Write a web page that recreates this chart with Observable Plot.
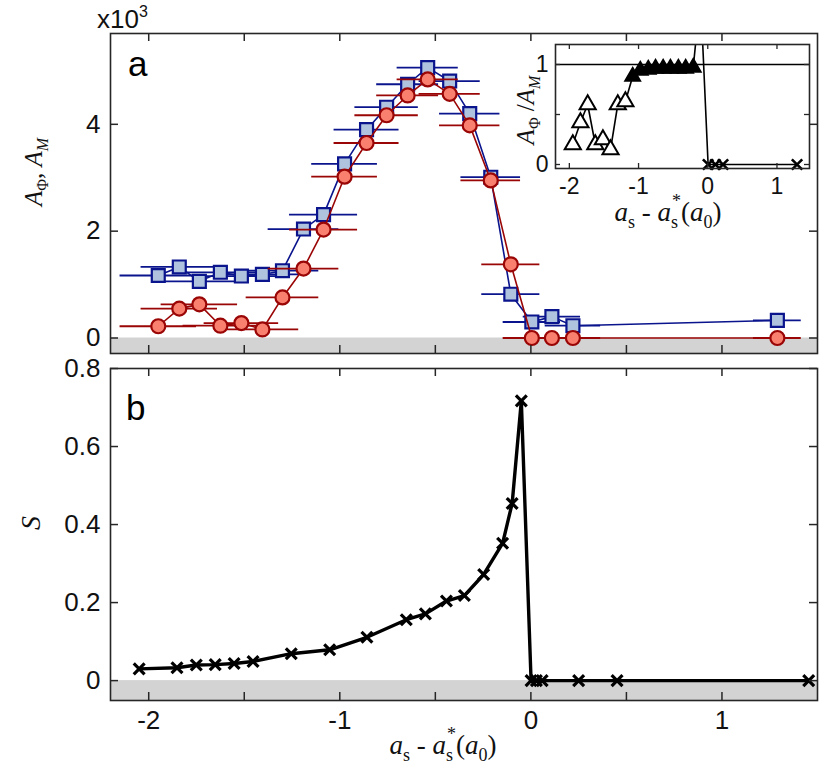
<!DOCTYPE html>
<html><head><meta charset="utf-8">
<script src="https://cdn.jsdelivr.net/npm/d3@7"></script>
<script src="https://cdn.jsdelivr.net/npm/@observablehq/plot@0.6"></script>
<style>
body{margin:0;background:#fff;}
#wrap{position:relative;width:830px;height:774px;overflow:hidden;background:#fff;}
</style></head><body><div id="wrap"></div>
<script>
// ---------- data ----------
// panel a: x positions, A_M (blue squares), A_Phi (red circles), both ×10^3, horizontal error half-widths
const xA    = [-1.95,-1.84,-1.735,-1.625,-1.515,-1.405,-1.30,-1.19,-1.085,-0.975,-0.86,-0.755,-0.645,-0.54,-0.425,-0.32,-0.21,-0.105,0.005,0.11,0.22,1.29];
const aM    = [1.17,1.33,1.06,1.23,1.16,1.19,1.26,2.04,2.31,3.26,3.90,4.32,4.75,5.06,4.81,4.20,3.01,0.82,0.30,0.40,0.23,0.33];
const aPhi  = [0.22,0.55,0.63,0.23,0.28,0.16,0.76,1.30,2.03,3.02,3.65,4.17,4.54,4.84,4.57,3.98,2.95,1.38,0,0,0,0];
const xErr  = [0.20,0.20,0.20,0.195,0.195,0.19,0.19,0.185,0.178,0.172,0.17,0.166,0.162,0.16,0.16,0.158,0.156,0.152,0.15,0.15,0.145,0.125];
// inset: ratio A_Phi/A_M and marker kind
const ratio = [0.20,0.42,0.60,0.20,0.25,0.15,0.60,0.63,0.88,0.94,0.95,0.96,0.96,0.96,0.96,0.96,0.97,1.70,0,0,0,0];
const kind  = ["open","open","open","open","open","open","open","open","filled","filled","filled","filled","filled","filled","filled","filled","filled","none","cross","cross","cross","cross"];
// panel b: S
const xB = [-2.05,-1.852,-1.751,-1.652,-1.553,-1.454,-1.254,-1.053,-0.858,-0.652,-0.552,-0.442,-0.348,-0.247,-0.148,-0.098,-0.05,0.001,0.029,0.059,0.25,0.451,1.454];
const sB = [0.030,0.033,0.040,0.041,0.044,0.049,0.069,0.079,0.111,0.156,0.171,0.204,0.218,0.272,0.352,0.454,0.717,0,0,0,0,0,0];
// ticks
const xTickLabels = [-2,-1,0,1];
const xTickMarks  = [-2,-1.5,-1,-0.5,0,0.5,1];
const aYTicks = [0,2,4];
const bYTicks = [0,0.2,0.4,0.6,0.8];
const iXTicks = [-2,-1,0,1];
const iYTicks = [0,0.5,1];

// ---------- tables ----------
const tableA = xA.map((x,i)=>({x, m:aM[i], p:aPhi[i], e:xErr[i]}));
const tableI = xA.map((x,i)=>({x, r:ratio[i], k:kind[i]}));
const tableB = xB.map((x,i)=>({x, s:sB[i]}));

const wrap = document.getElementById("wrap");
const ink = "#262626";
const blueS = "#0a148c", blueF = "#afc3de", redS = "#9a0505", redF = "#f9806f";
const W = 830, mL = 110, mR = 13, innerW = W - mL - mR;
const xDomain = [-2.2, 1.5];
const sans = "'Liberation Sans', Arial, sans-serif";

function place(el, left, top){ el.style.position="absolute"; el.style.left=left+"px"; el.style.top=top+"px"; wrap.appendChild(el); }

function frameTicks(xt, yt, innerH, iw, len, sw){
  return [
    Plot.tickX(xt, {x:d=>d, insetTop: innerH-len, stroke:ink, strokeWidth:sw}),
    Plot.tickX(xt, {x:d=>d, insetBottom: innerH-len, stroke:ink, strokeWidth:sw}),
    Plot.tickY(yt, {y:d=>d, insetRight: iw-len, stroke:ink, strokeWidth:sw}),
    Plot.tickY(yt, {y:d=>d, insetLeft: iw-len, stroke:ink, strokeWidth:sw}),
    Plot.frame({stroke:ink, strokeWidth:1.6})
  ];
}

// ---------- panel a ----------
const hA = 360, mTA = 33, mBA = 7, innerHA = hA - mTA - mBA;
const aYDomain = [-0.29, 5.70];
const chartA = Plot.plot({
  width:W, height:hA, marginTop:mTA, marginBottom:mBA, marginLeft:mL, marginRight:mR,
  style:{fontFamily:sans, fontSize:"26px", color:"#111", background:"transparent", overflow:"visible"},
  x:{domain:xDomain, axis:null},
  y:{domain:aYDomain, ticks:aYTicks, tickSize:0, tickPadding:10, label:null, tickFormat:d=>String(d)},
  marks:[
    Plot.rect([0], {x1:()=>xDomain[0], x2:()=>xDomain[1], y1:()=>aYDomain[0], y2:()=>0, fill:"#d3d3d3"}),
    Plot.ruleY(tableA, {y:"m", x1:d=>d.x-d.e, x2:d=>d.x+d.e, stroke:blueS, strokeWidth:1.8}),
    Plot.line(tableA, {x:"x", y:"m", stroke:blueS, strokeWidth:1.6}),
    Plot.dot(tableA, {x:"x", y:"m", symbol:"square", r:7.3, fill:blueF, stroke:blueS, strokeWidth:2.2}),
    Plot.ruleY(tableA, {y:"p", x1:d=>d.x-d.e, x2:d=>d.x+d.e, stroke:redS, strokeWidth:1.8}),
    Plot.line(tableA, {x:"x", y:"p", stroke:redS, strokeWidth:1.6}),
    Plot.dot(tableA, {x:"x", y:"p", symbol:"circle", r:7, fill:redF, stroke:redS, strokeWidth:2.2}),
    ...frameTicks(xTickMarks, aYTicks, innerHA, innerW, 8, 1.5)
  ]
});
place(chartA, 0, 0);

// ---------- panel b ----------
const topB = 355, hB = 774 - topB, mTB = 13, mBB = 74, innerHB = hB - mTB - mBB;
const bYDomain = [-0.051, 0.8];
const chartB = Plot.plot({
  width:W, height:hB, marginTop:mTB, marginBottom:mBB, marginLeft:mL, marginRight:mR,
  style:{fontFamily:sans, fontSize:"26px", color:"#111", background:"transparent", overflow:"visible"},
  x:{domain:xDomain, ticks:xTickLabels, tickSize:0, tickPadding:10, label:null, tickFormat:d=>String(d)},
  y:{domain:bYDomain, ticks:bYTicks, tickSize:0, tickPadding:10, label:null, tickFormat:d=>String(d)},
  marks:[
    Plot.rect([0], {x1:()=>xDomain[0], x2:()=>xDomain[1], y1:()=>bYDomain[0], y2:()=>0, fill:"#d3d3d3"}),
    Plot.line(tableB, {x:"x", y:"s", stroke:"#000", strokeWidth:3.4}),
    Plot.dot(tableB, {x:"x", y:"s", symbol:"times", r:5, stroke:"#000", strokeWidth:3.2}),
    ...frameTicks(xTickMarks, bYTicks, innerHB, innerW, 8, 1.5)
  ]
});
place(chartB, 0, topB);

// ---------- inset ----------
const iLeft = 500, iTop = 30, iW = 320, iH = 200, imL = 55, imR = 11, imT = 14, imB = 62;
const iDomX = [-2.2, 1.47], iDomY = [-0.04, 1.2];
const chartI = Plot.plot({
  width:iW, height:iH, marginTop:imT, marginBottom:imB, marginLeft:imL, marginRight:imR,
  style:{fontFamily:sans, fontSize:"23px", color:"#111", background:"transparent", overflow:"visible"},
  x:{domain:iDomX, ticks:iXTicks, tickSize:0, tickPadding:9, label:null, tickFormat:d=>String(d)},
  y:{domain:iDomY, ticks:iYTicks, tickSize:0, tickPadding:7, label:null, tickFormat:d=>Number.isInteger(d)?String(d):""},
  marks:[
    Plot.frame({fill:"#fff"}),
    Plot.ruleY([1], {stroke:"#000", strokeWidth:1.6}),
    Plot.line(tableI, {x:"x", y:"r", stroke:"#000", strokeWidth:1.6, clip:true}),
    Plot.dot(tableI, {filter:d=>d.k==="open", x:"x", y:"r", symbol:"triangle", r:6, fill:"#fff", stroke:"#000", strokeWidth:2}),
    Plot.dot(tableI, {filter:d=>d.k==="filled", x:"x", y:"r", symbol:"triangle", r:5.8, fill:"#000", stroke:"#000", strokeWidth:1.5}),
    Plot.dot(tableI, {filter:d=>d.k==="cross", x:"x", y:"r", symbol:"times", r:4.8, stroke:"#000", strokeWidth:2.6}),
    ...frameTicks(iXTicks, iYTicks, iH-imT-imB, iW-imL-imR, 5, 1.3)
  ]
});
place(chartI, iLeft, iTop);

// ---------- titles / annotations ----------
const ov = d3.select(wrap).append("svg").attr("width",W).attr("height",774)
  .style("position","absolute").style("left","0px").style("top","0px").style("pointer-events","none");
const serif = "'Liberation Serif', 'Times New Roman', serif";
function rich(x, y, rot, parts, size){
  const g = ov.append("g").attr("transform", `translate(${x},${y})` + (rot? ` rotate(${rot})` : ""));
  const t = g.append("text").attr("font-family", serif).attr("font-size", size).attr("fill","#111").attr("text-anchor","middle");
  parts.forEach(p=>{
    const ts = t.append("tspan").text(p.t);
    if (p.i) ts.attr("font-style","italic");
    if (p.s) ts.attr("font-size", p.s);
    if (p.dy) ts.attr("dy", p.dy);
    if (p.dx) ts.attr("dx", p.dx);
  });
}
const asTitle = [{t:"a",i:1},{t:"s",s:18,dy:7},{t:"*",s:18,dx:-6,dy:-21},{t:"(",dy:14},{t:"a",i:1},{t:"0",s:18,dy:7},{t:")",dy:-7}];
const asLead = [{t:"a",i:1},{t:"s",s:18,dy:7},{t:" - ",dy:-7}];
rich(443, 754, 0, asLead.concat(asTitle), 27);
rich(668, 221, 0, asLead.concat(asTitle), 27);
rich(42, 172, -90, [{t:"A",i:1},{t:"Φ",s:16,dy:6},{t:", ",dy:-6},{t:"A",i:1},{t:"M",i:1,s:16,dy:6}], 25);
rich(40, 523, -90, [{t:"S",i:1}], 28);
rich(534, 110, -90, [{t:"A",i:1},{t:"Φ",s:16,dy:6},{t:" /",dy:-6},{t:"A",i:1},{t:"M",i:1,s:16,dy:6}], 25);

const x10 = ov.append("text").attr("x",97).attr("y",28).attr("font-family",sans).attr("font-size",26).attr("fill","#111");
x10.append("tspan").text("x10");
x10.append("tspan").text("3").attr("font-size",16).attr("dy",-11);
ov.append("text").attr("x",128).attr("y",76).attr("font-family",sans).attr("font-size",35).attr("fill","#000").text("a");
ov.append("text").attr("x",126).attr("y",420).attr("font-family",sans).attr("font-size",35).attr("fill","#000").text("b");
</script></body></html>
